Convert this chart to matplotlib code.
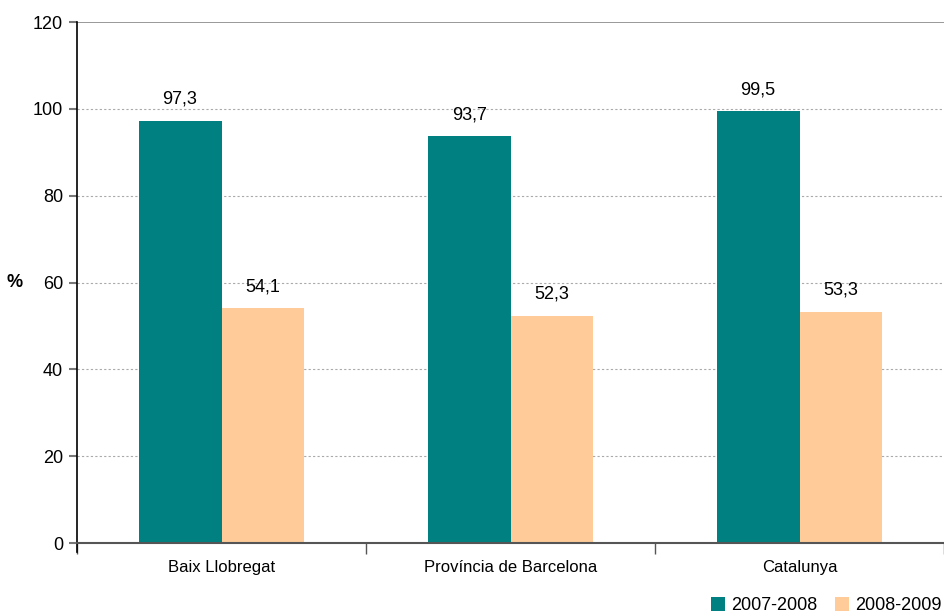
import numpy as np
import matplotlib.pyplot as plt
from matplotlib import font_manager

# Dades
categories = ['Baix Llobregat', 'Província de Barcelona', 'Catalunya']
series_names = ['2007-2008', '2008-2009']
valors_0708 = [97.3, 93.7, 99.5]
valors_0809 = [54.1, 52.3, 53.3]

noms = [f.name for f in font_manager.fontManager.ttflist]
if 'Liberation Sans Narrow' in noms:
    plt.rcParams['font.family'] = ['Liberation Sans Narrow', 'DejaVu Sans']
else:
    plt.rcParams['font.family'] = ['Liberation Sans', 'DejaVu Sans']

cores = ['#008080', '#FFCC99']
mida = 13

fig = plt.figure(figsize=(9.45, 6.15), dpi=100)
ax = fig.add_axes([0.0815, 0.117, 0.9175, 0.847])

x = np.arange(len(categories))
w = 0.287
b1 = ax.bar(x - w / 2, valors_0708, w, color=cores[0], label=series_names[0])
b2 = ax.bar(x + w / 2, valors_0809, w, color=cores[1], label=series_names[1])

for barres, vals in [(b1, valors_0708), (b2, valors_0809)]:
    for r, v in zip(barres, vals):
        ax.text(r.get_x() + r.get_width() / 2, v + 3, f'{v:.1f}'.replace('.', ','),
                ha='center', va='bottom', fontsize=mida)

ax.set_ylim(0, 120)
ax.set_xlim(-0.5, 2.5)
ax.set_yticks(range(0, 121, 20))
ax.set_yticklabels([str(t) for t in range(0, 121, 20)], fontsize=mida)

# linies de la graella
for t in range(20, 120, 20):
    ax.axhline(t, color='#aaaaaa', linestyle=(0, (2, 2)), linewidth=0.8, zorder=0)
ax.axhline(120, color='#888888', linewidth=1.2, zorder=0)

ax.spines['top'].set_visible(False)
ax.spines['right'].set_visible(False)
ax.spines['left'].set_color('black')
ax.spines['left'].set_linewidth(1.2)
ax.spines['bottom'].set_color('#555555')
ax.spines['bottom'].set_linewidth(1.5)
ax.spines['left'].set_bounds(-2, 120)

ax.tick_params(axis='y', direction='out', length=6, color='#777777', width=1.5, pad=4)
ax.set_xticks([-0.5, 0.5, 1.5, 2.5])
ax.set_xticklabels([])
ax.set_xticks(x, minor=True)
ax.set_xticklabels(categories, minor=True, fontsize=12)
ax.tick_params(axis='x', which='major', direction='out', length=8, color='#555555', width=1)
ax.tick_params(axis='x', which='minor', length=0, pad=12)

ax.set_ylabel('%', rotation=0, fontsize=mida, fontweight='bold', va='center')
ax.yaxis.set_label_coords(-0.072, 0.5)

fig.legend(handles=[b1, b2], labels=series_names, loc='lower right',
           bbox_to_anchor=(1.0, -0.005), ncol=2, frameon=False,
           fontsize=mida, handlelength=0.8, handleheight=0.8, handletextpad=0.3,
           columnspacing=1.0, borderaxespad=0, borderpad=0.2)

plt.savefig('out.png', dpi=100)
plt.close()
